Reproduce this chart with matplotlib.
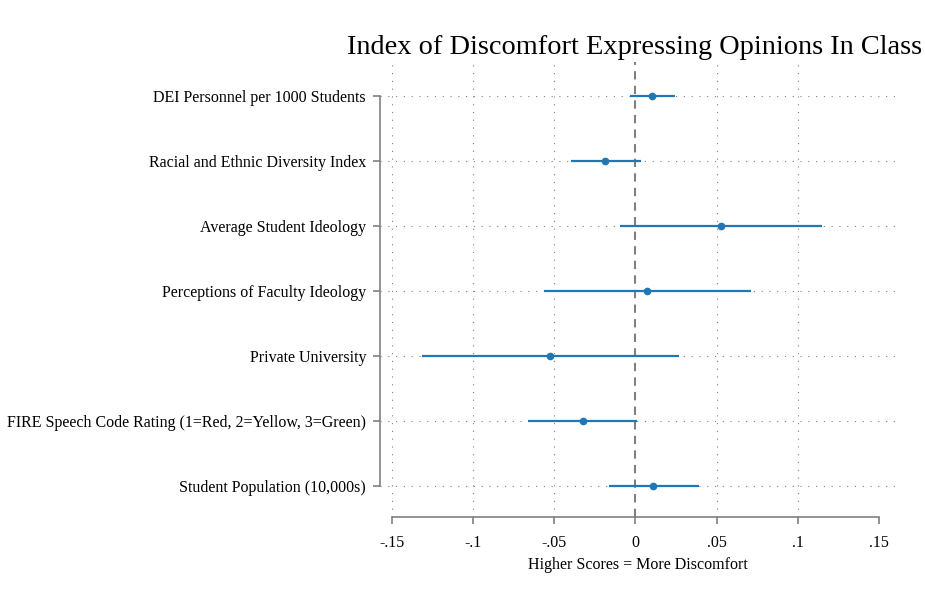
import numpy as np
from matplotlib import pyplot as plt

labels = [
    "DEI Personnel per 1000 Students",
    "Racial and Ethnic Diversity Index",
    "Average Student Ideology",
    "Perceptions of Faculty Ideology",
    "Private University",
    "FIRE Speech Code Rating (1=Red, 2=Yellow, 3=Green)",
    "Student Population (10,000s)",
]
coef = [0.0104, -0.0185, 0.0527, 0.0074, -0.0525, -0.0325, 0.0110]
ci_lo = [-0.0034, -0.0397, -0.0094, -0.0563, -0.1315, -0.0663, -0.0161]
ci_hi = [0.0247, 0.0032, 0.1148, 0.0710, 0.0266, 0.0009, 0.0389]
xticks = [-0.15, -0.1, -0.05, 0, 0.05, 0.1, 0.15]
xticklabels = ["-.15", "-.1", "-.05", "0", ".05", ".1", ".15"]

plt.rcParams['font.family'] = ['Liberation Serif', 'DejaVu Serif']

fig = plt.figure(figsize=(9.25, 6.12), dpi=100)
ax = fig.add_axes([380 / 925, 1 - 517 / 612, 515 / 925, 455 / 612])

grey = '#808080'
blue = '#1f77b4'
ys = np.arange(len(labels))

# grid
for x in xticks[:-1]:
    if x != 0:
        ax.axvline(x, color=grey, lw=0.8, ls=(0, (1, 6)), zorder=0)
for y in ys:
    ax.axhline(y, color=grey, lw=0.8, ls=(0, (1, 6)), zorder=0)

ax.axvline(0, color=grey, lw=1.5, ls=(0, (4, 3)), zorder=1)

ax.hlines(ys, ci_lo, ci_hi, color=blue, lw=1.6, zorder=3)
ax.plot(coef, ys, 'o', color=blue, ms=4.5, zorder=4)

ax.set_xlim(-0.1574, 0.16)
ax.set_ylim(6.477, -0.523)
ax.set_yticks(ys)
ax.set_yticklabels(labels, fontsize=11.5)
ax.set_xticks(xticks)
ax.set_xticklabels(xticklabels, fontsize=11.5)
ax.set_xlabel("Higher Scores = More Discomfort", fontsize=11.5, labelpad=4)

for side in ['top', 'right']:
    ax.spines[side].set_visible(False)
for side in ['left', 'bottom']:
    ax.spines[side].set_color(grey)
    ax.spines[side].set_linewidth(1.2)
ax.spines['left'].set_bounds(0, 6)
ax.spines['bottom'].set_bounds(-0.15, 0.15)
ax.tick_params(axis='both', colors=grey, labelcolor='black', length=5, width=1.2)
ax.tick_params(axis='y', pad=5)
ax.tick_params(axis='x', pad=8)

fig.text(635 / 925, 1 - 47 / 612, "Index of Discomfort Expressing Opinions In Class",
         ha='center', va='center', fontsize=20.4)

fig.savefig("out.png", dpi=100)
